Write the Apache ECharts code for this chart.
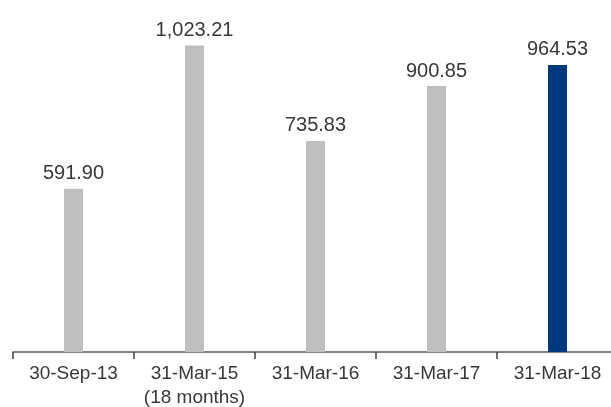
<!DOCTYPE html>
<html>
<head>
<meta charset="utf-8">
<style>html,body{margin:0;padding:0;background:#fff;overflow:hidden;width:611px;height:407px}#c{width:611px;height:407px}</style>
<script src="https://cdn.jsdelivr.net/npm/echarts@6/dist/echarts.min.js"></script>
</head>
<body>
<div id="c"></div>
<script>
const categories = ['30-Sep-13', '31-Mar-15\n(18 months)', '31-Mar-16', '31-Mar-17', '31-Mar-18'];
const values = [591.90, 1023.21, 735.83, 900.85, 964.53];
const highlightIndex = 4;

const chart = echarts.init(document.getElementById('c'), null, {renderer: 'canvas'});
chart.setOption({
  animation: false,
  grid: {left: 13, top: 20, bottom: 55, width: 605, outerBoundsMode: 'none', containLabel: false},
  xAxis: {
    type: 'category',
    data: categories,
    axisLine: {lineStyle: {color: '#595959', width: 1.5}},
    axisTick: {show: true, length: 7, lineStyle: {color: '#404040', width: 1.5}},
    axisLabel: {color: '#383838', fontSize: 19, fontFamily: 'Liberation Sans', margin: 10, lineHeight: 24, interval: 0}
  },
  yAxis: {
    type: 'value', min: 100, max: 1100, show: false,
    splitLine: {show: false}
  },
  series: [{
    type: 'bar',
    barWidth: 19,
    data: values.map((v, i) => ({
      value: v,
      itemStyle: {color: i === highlightIndex ? '#003a7d' : '#bfbfbf'}
    })),
    label: {
      show: true, position: 'top', distance: 5,
      color: '#383838', fontSize: 20, fontFamily: 'Liberation Sans',
      formatter: p => p.value.toLocaleString('en-US', {minimumFractionDigits: 2, maximumFractionDigits: 2})
    }
  }]
});
</script>
</body>
</html>
